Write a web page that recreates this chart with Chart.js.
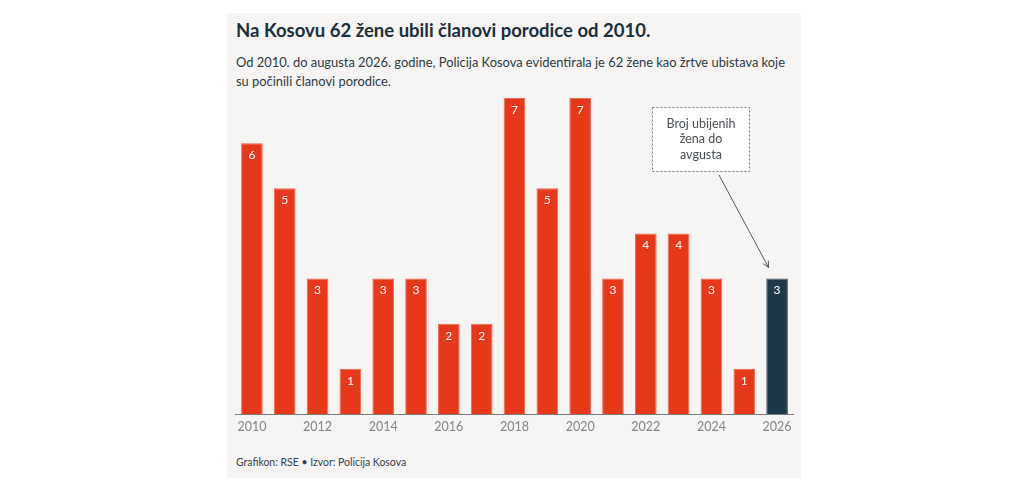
<!DOCTYPE html>
<html lang="sr">
<head>
<meta charset="utf-8">
<title>Na Kosovu 62 žene ubili članovi porodice od 2010.</title>
<script src="https://cdn.jsdelivr.net/npm/chart.js@4.4.1/dist/chart.umd.min.js"></script>
<style>
    html, body { margin: 0; padding: 0; background: #ffffff; }
    body { width: 1024px; height: 502px; position: relative; overflow: hidden; font-family: Lato, "Noto Sans", sans-serif; }
    .panel { position: absolute; left: 227px; top: 13px; width: 574px; height: 465px; background: #f6f5f3; }
    .title { position: absolute; left: 236px; top: 19px; margin: 0; font-size: 18.5px; font-weight: 700; color: #1b2e3b; white-space: nowrap; }
    .subtitle { position: absolute; left: 236px; top: 52px; margin: 0; font-size: 14px; line-height: 19px; color: #2c3a44; white-space: nowrap; transform: scaleX(0.92); transform-origin: left top; }
    .footer { position: absolute; left: 236px; top: 455px; margin: 0; font-size: 11.5px; color: #35434d; white-space: nowrap; transform: scaleX(0.91); transform-origin: left top; }
    .chart-box { position: absolute; left: 227px; top: 90px; width: 574px; height: 350px; }
</style>
</head>
<body>
<div class="panel"></div>
<h1 class="title">Na Kosovu 62 žene ubili članovi porodice od 2010.</h1>
<p class="subtitle">Od 2010. do augusta 2026. godine, Policija Kosova evidentirala je 62 žene kao žrtve ubistava koje<br>su počinili članovi porodice.</p>
<div class="chart-box"><canvas id="femicide-chart" width="574" height="350"></canvas></div>
<p class="footer">Grafikon: RSE • Izvor: Policija Kosova</p>

<script>
    // podaci sa grafikona
    const years = ['2010', '2011', '2012', '2013', '2014', '2015', '2016', '2017', '2018',
                   '2019', '2020', '2021', '2022', '2023', '2024', '2025', '2026'];
    const killed = [6, 5, 3, 1, 3, 3, 2, 2, 7, 5, 7, 3, 4, 4, 3, 1, 3];
    const noteLines = ['Broj ubijenih', 'žena do', 'avgusta'];

    const RED = '#e8381a';
    const NAVY = '#1c3a4a';

    const barColors = years.map(y => y === '2026' ? NAVY : RED);
    const barBorders = years.map(y => y === '2026' ? '#42596a' : '#ef6a50');

    // brojevi unutar stubova
    const valueLabels = {
        id: 'valueLabels',
        afterDatasetsDraw(chart) {
            const ctx = chart.ctx;
            const meta = chart.getDatasetMeta(0);
            ctx.save();
            ctx.font = '12px Lato, "Noto Sans", sans-serif';
            ctx.fillStyle = '#ffffff';
            ctx.textAlign = 'center';
            ctx.textBaseline = 'middle';
            meta.data.forEach((bar, i) => {
                ctx.fillText(String(killed[i]), bar.x, bar.y + 12);
            });
            ctx.restore();
        }
    };

    // napomena sa strelicom za 2026.
    const noteBox = {
        id: 'noteBox',
        afterDraw(chart) {
            const ctx = chart.ctx;
            const meta = chart.getDatasetMeta(0);
            const last = meta.data[meta.data.length - 1];
            const bx = 425.5, by = 17.5, bw = 97, bh = 64;

            ctx.save();
            ctx.fillStyle = '#ffffff';
            ctx.fillRect(bx, by, bw, bh);
            ctx.strokeStyle = '#7a7a7a';
            ctx.lineWidth = 1;
            ctx.setLineDash([2, 2]);
            ctx.strokeRect(bx, by, bw, bh);
            ctx.setLineDash([]);

            ctx.font = '12.5px Lato, "Noto Sans", sans-serif';
            ctx.fillStyle = '#4a4f54';
            ctx.textAlign = 'center';
            ctx.textBaseline = 'middle';
            noteLines.forEach((line, i) => {
                ctx.fillText(line, bx + bw / 2, by + 16 + i * 15.5);
            });

            // strelica
            const x1 = 492, y1 = 85;
            const x2 = last.x - 8.5, y2 = last.y - 11;
            ctx.strokeStyle = '#555555';
            ctx.beginPath();
            ctx.moveTo(x1, y1);
            ctx.lineTo(x2, y2);
            ctx.stroke();
            const ang = Math.atan2(y2 - y1, x2 - x1);
            ctx.beginPath();
            ctx.moveTo(x2 - 7 * Math.cos(ang - 0.45), y2 - 7 * Math.sin(ang - 0.45));
            ctx.lineTo(x2, y2);
            ctx.lineTo(x2 - 7 * Math.cos(ang + 0.45), y2 - 7 * Math.sin(ang + 0.45));
            ctx.stroke();
            ctx.restore();
        }
    };

    new Chart(document.getElementById('femicide-chart'), {
        type: 'bar',
        data: {
            labels: years,
            datasets: [{
                label: 'Ubijene žene',
                data: killed,
                backgroundColor: barColors,
                borderColor: barBorders,
                borderWidth: 1,
                categoryPercentage: 0.66,
                barPercentage: 1
            }]
        },
        options: {
            responsive: false,
            animation: false,
            layout: { padding: { left: 8.5, right: 7.5, top: 8, bottom: 0 } },
            plugins: {
                legend: { display: false },
                tooltip: { enabled: false }
            },
            scales: {
                x: {
                    grid: { display: false, drawTicks: false },
                    border: { display: true, color: '#7d7d7d', width: 1 },
                    ticks: {
                        autoSkip: false,
                        maxRotation: 0,
                        padding: 5,
                        color: '#858585',
                        font: { family: 'Lato, "Noto Sans", sans-serif', size: 12.5 },
                        callback: function(value, index) {
                            return index % 2 === 0 ? this.getLabelForValue(value) : '';
                        }
                    },
                    afterFit(scale) { scale.height = 26; }
                },
                y: {
                    display: false,
                    min: 0,
                    max: 7
                }
            }
        },
        plugins: [valueLabels, noteBox]
    });
</script>
</body>
</html>
